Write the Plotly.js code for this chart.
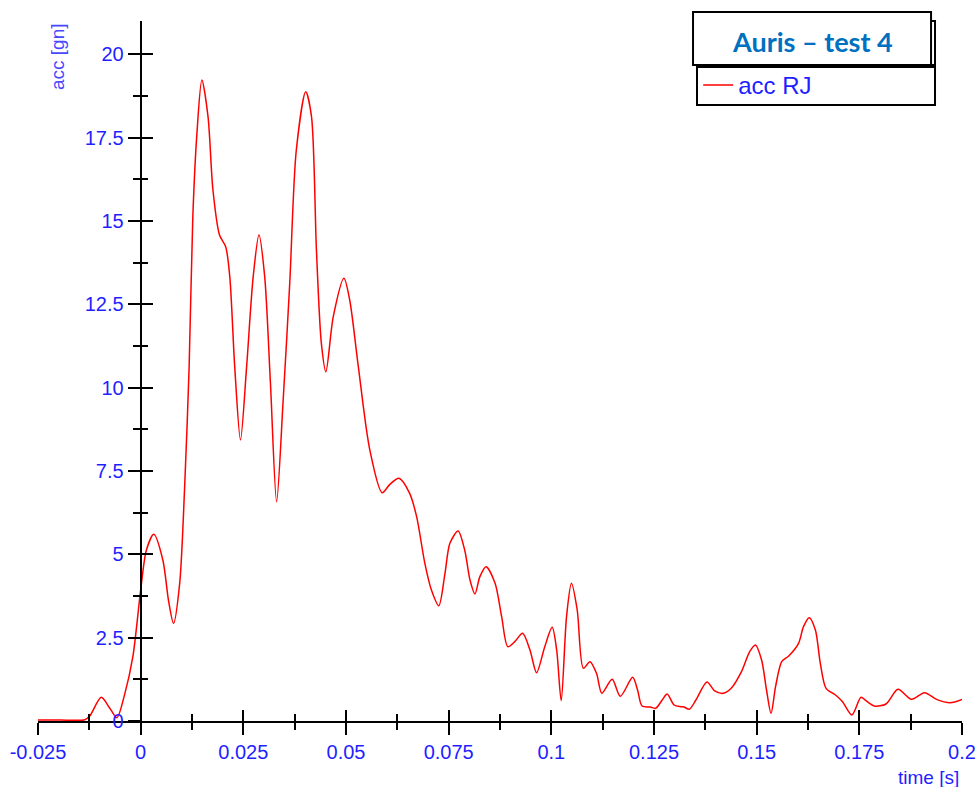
<!DOCTYPE html>
<html><head><meta charset="utf-8">
<script src="https://cdn.plot.ly/plotly-3.0.1.min.js"></script>
<style>html,body{margin:0;padding:0;background:#fff}#chart{width:979px;height:787px}</style>
</head><body><div id="chart"></div>
<script>
// ---- data ----
const seriesName = 'acc RJ';
const chartTitle = 'Auris – test 4';
const xAxisTitle = 'time [s]';
const yAxisTitle = 'acc [gn]';

const time_s = [
 -0.025, -0.0197, -0.0136, -0.0124, -0.0096, -0.0076, -0.0058, -0.0039, -0.0019, 0.0,
 0.0014, 0.0032, 0.0054, 0.0068, 0.0080, 0.0095, 0.0107, 0.0118, 0.0127, 0.0137,
 0.0149, 0.0164, 0.0176, 0.0192, 0.0207, 0.0217, 0.0229, 0.0243, 0.0258, 0.0274,
 0.0288, 0.0302, 0.0316, 0.0331, 0.0347, 0.0363, 0.0379, 0.0402, 0.0416, 0.0428,
 0.0440, 0.0451, 0.0469, 0.0495, 0.0509, 0.0530, 0.0558, 0.0588, 0.0607, 0.0629,
 0.0655, 0.0672, 0.0692, 0.0708, 0.0726, 0.0741, 0.0753, 0.0773, 0.0789, 0.0802,
 0.0814, 0.0826, 0.0841, 0.0863, 0.0879, 0.0894, 0.0911, 0.0930, 0.0948, 0.0964,
 0.0984, 0.1002, 0.1013, 0.1024, 0.1037, 0.1049, 0.1063, 0.1078, 0.1094, 0.1110,
 0.1123, 0.1148, 0.1168, 0.1198, 0.1210, 0.1221, 0.1241, 0.1254, 0.1270, 0.1282,
 0.1299, 0.1315, 0.1323, 0.1336, 0.1352, 0.1379, 0.1397, 0.1418, 0.1438, 0.1463,
 0.1483, 0.1497, 0.1512, 0.1524, 0.1535, 0.1546, 0.1561, 0.1578, 0.1602, 0.1614,
 0.1628, 0.1643, 0.1655, 0.1669, 0.1692, 0.1709, 0.1732, 0.1754, 0.1766, 0.1786,
 0.1815, 0.1844, 0.1877, 0.1909, 0.1938, 0.1971, 0.2000
];
const acc_gn = [
 0.03, 0.03, 0.04, 0.15, 0.71, 0.40, 0.10, 0.80, 1.93, 3.93,
 5.13, 5.60, 4.83, 3.60, 2.93, 4.13, 7.00, 10.63, 15.13, 17.63,
 19.23, 18.13, 15.93, 14.58, 14.23, 13.33, 10.63, 8.43, 10.63, 13.33,
 14.58, 13.33, 10.13, 6.58, 9.63, 13.13, 17.13, 18.88, 18.13, 14.13,
 11.33, 10.48, 12.13, 13.28, 12.63, 10.63, 8.13, 6.85, 7.10, 7.28,
 6.83, 6.13, 4.73, 3.93, 3.46, 4.43, 5.33, 5.70, 5.13, 4.23,
 3.81, 4.33, 4.63, 4.13, 3.13, 2.23, 2.38, 2.63, 2.13, 1.45,
 2.23, 2.81, 2.13, 0.61, 3.13, 4.13, 3.33, 1.58, 1.78, 1.43,
 0.83, 1.25, 0.74, 1.31, 0.93, 0.45, 0.42, 0.38, 0.63, 0.81,
 0.48, 0.43, 0.42, 0.35, 0.63, 1.17, 0.91, 0.83, 0.98, 1.48,
 2.08, 2.28, 1.83, 0.93, 0.23, 1.03, 1.78, 1.95, 2.33, 2.83,
 3.10, 2.73, 1.73, 0.98, 0.78, 0.58, 0.18, 0.71, 0.61, 0.45,
 0.51, 0.95, 0.65, 0.85, 0.65, 0.55, 0.65
];

const xTickVals = [-0.025, 0, 0.025, 0.05, 0.075, 0.1, 0.125, 0.15, 0.175, 0.2];
const xTickText = ['-0.025', '0', '0.025', '0.05', '0.075', '0.1', '0.125', '0.15', '0.175', '0.2'];
const yTickVals = [0, 2.5, 5, 7.5, 10, 12.5, 15, 17.5, 20];
const yTickText = ['0', '2.5', '5', '7.5', '10', '12.5', '15', '17.5', '20'];
const xRange = [-0.025, 0.2];
const yRange = [0, 21];

// ---- styling ----
const blue = '#1f1fff';
const tickFont = {family: 'Liberation Sans, Arial, sans-serif', size: 20, color: blue};
const yPos = (0 - xRange[0]) / (xRange[1] - xRange[0]);

const traces = [
  {x: time_s, y: acc_gn, type: 'scatter', mode: 'lines', name: seriesName,
   line: {color: '#ff0000', width: 1.5, shape: 'spline', smoothing: 0.8},
   xaxis: 'x', yaxis: 'y', showlegend: true},
  {x: [], y: [], type: 'scatter', mode: 'lines', xaxis: 'x2', yaxis: 'y2',
   showlegend: false, hoverinfo: 'skip'}
];

const layout = {
  width: 979, height: 787,
  margin: {l: 38, r: 17, t: 21, b: 66, pad: 0},
  paper_bgcolor: '#ffffff', plot_bgcolor: '#ffffff',
  showlegend: true,
  legend: {x: 0.7145, xanchor: 'left', y: 0.908, yanchor: 'middle',
           bgcolor: 'rgba(0,0,0,0)', borderwidth: 0,
           font: {family: 'Liberation Sans, Arial, sans-serif', size: 24, color: blue}},
  xaxis: {range: xRange, anchor: 'y', showgrid: false, zeroline: false,
          showline: true, linecolor: '#000', linewidth: 2,
          tickmode: 'array', tickvals: xTickVals, ticktext: xTickText,
          ticks: 'outside', ticklen: 12, tickwidth: 2, tickcolor: '#000',
          tickfont: tickFont,
          minor: {tickmode: 'linear', tick0: 0, dtick: 0.0125, ticks: 'outside', ticklen: 7, tickwidth: 2, tickcolor: '#000', showgrid: false}},
  xaxis2: {range: xRange, overlaying: 'x', anchor: 'y2', showgrid: false, zeroline: false,
          showline: false, showticklabels: false,
          tickmode: 'array', tickvals: xTickVals,
          ticks: 'inside', ticklen: 11, tickwidth: 2, tickcolor: '#000',
          minor: {tickmode: 'linear', tick0: 0, dtick: 0.0125, ticks: 'inside', ticklen: 7, tickwidth: 2, tickcolor: '#000', showgrid: false}},
  yaxis: {range: yRange, anchor: 'free', position: yPos, showgrid: false, zeroline: false,
          showline: true, linecolor: '#000', linewidth: 2,
          tickmode: 'array', tickvals: yTickVals, ticktext: yTickText,
          ticks: 'outside', ticklen: 12, tickwidth: 2, tickcolor: '#000',
          tickfont: tickFont,
          minor: {tickmode: 'linear', tick0: 0, dtick: 1.25, ticks: 'outside', ticklen: 7, tickwidth: 2, tickcolor: '#000', showgrid: false}},
  yaxis2: {range: yRange, overlaying: 'y', anchor: 'free', position: yPos, side: 'left',
          showgrid: false, zeroline: false, showline: false, showticklabels: false,
          tickmode: 'array', tickvals: yTickVals,
          ticks: 'inside', ticklen: 11, tickwidth: 2, tickcolor: '#000',
          minor: {tickmode: 'linear', tick0: 0, dtick: 1.25, ticks: 'inside', ticklen: 6, tickwidth: 2, tickcolor: '#000', showgrid: false}},
  shapes: [
    {type: 'rect', xref: 'paper', yref: 'paper', x0: 0.7132, x1: 0.9708, y0: 0.9371, y1: 1.0,
     line: {color: '#000', width: 2}, fillcolor: '#fff', layer: 'above'},
    {type: 'rect', xref: 'paper', yref: 'paper', x0: 0.7089, x1: 0.9665, y0: 0.9371, y1: 1.0129,
     line: {color: '#000', width: 2}, fillcolor: '#fff', layer: 'above'},
    {type: 'rect', xref: 'paper', yref: 'paper', x0: 0.7132, x1: 0.9708, y0: 0.88, y1: 0.9343,
     line: {color: '#000', width: 2}, fillcolor: 'rgba(0,0,0,0)', layer: 'above'}
  ],
  annotations: [
    {text: '<b>' + chartTitle + '</b>', xref: 'paper', yref: 'paper', x: 0.8377, y: 0.9714,
     xanchor: 'center', yanchor: 'middle', showarrow: false,
     font: {family: 'Lato, Noto Sans, sans-serif', size: 27, color: '#0070c0'}},
    {text: yAxisTitle, xref: 'paper', yref: 'paper', x: (58 - 38) / 924, y: (721 - 57) / 700,
     xanchor: 'center', yanchor: 'middle', textangle: -90, showarrow: false,
     font: {family: 'Liberation Sans, Arial, sans-serif', size: 19, color: '#4848ff'}},
    {text: xAxisTitle, xref: 'paper', yref: 'paper', x: (961 - 38) / 924, y: (721 - 777) / 700,
     xanchor: 'right', yanchor: 'middle', showarrow: false,
     font: {family: 'Liberation Sans, Arial, sans-serif', size: 19, color: blue}}
  ]
};

Plotly.newPlot('chart', traces, layout, {displayModeBar: false, staticPlot: true});
</script>
</body></html>
